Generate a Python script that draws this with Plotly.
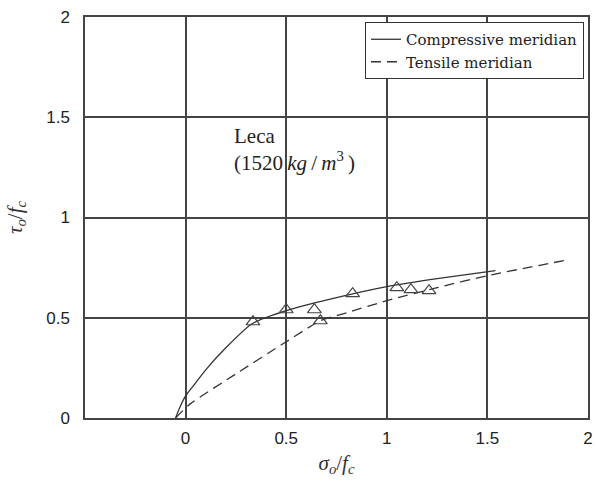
import plotly.graph_objects as go

# Compressive meridian curve
comp_x = [-0.05, -0.03, 0.0, 0.05, 0.1, 0.2, 0.33, 0.5, 0.75, 1.0, 1.25, 1.54]
comp_y = [0.0, 0.05, 0.11, 0.175, 0.24, 0.35, 0.47, 0.535, 0.6, 0.655, 0.695, 0.735]

# Tensile meridian curve
tens_x = [-0.05, 0.02, 0.25, 0.5, 0.67, 0.8, 1.0, 1.25, 1.5, 1.88]
tens_y = [0.0, 0.068, 0.22, 0.38, 0.485, 0.525, 0.585, 0.65, 0.71, 0.785]

# Test data (triangles)
data_x = [0.335, 0.50, 0.64, 0.67, 0.83, 1.05, 1.12, 1.21]
data_y = [0.48, 0.54, 0.54, 0.485, 0.62, 0.65, 0.64, 0.635]

x_ticks = [0, 0.5, 1, 1.5, 2]
x_tick_labels = ["0", "0.5", "1", "1.5", "2"]
y_ticks = [0, 0.5, 1, 1.5, 2]
y_tick_labels = ["0", "0.5", "1", "1.5", "2"]

serif = "Liberation Serif, DejaVu Serif, serif"
sans = "Liberation Sans, Arial, sans-serif"
line_col = "#333333"
grid_col = "#444444"

fig = go.Figure()
fig.add_trace(go.Scatter(x=comp_x, y=comp_y, mode="lines", name="Compressive meridian",
                         line=dict(color=line_col, width=1.3, shape="spline", smoothing=0.6)))
fig.add_trace(go.Scatter(x=tens_x, y=tens_y, mode="lines", name="Tensile meridian",
                         line=dict(color=line_col, width=1.3, dash="10px,6px", shape="spline",
                                   smoothing=0.6)))
fig.add_trace(go.Scatter(x=data_x, y=data_y, mode="markers", showlegend=False,
                         marker=dict(symbol="triangle-up-open", size=12,
                                     color="#444444", line=dict(width=1.2))))

fig.add_annotation(x=0.23, y=1.34, xref="x", yref="y", xanchor="left", yanchor="middle",
                   align="left", showarrow=False,
                   text="Leca<br>(1520\u2009<i>kg</i>\u2009/\u2009<i>m</i><sup>3</sup>\u2009)",
                   font=dict(family=serif, size=21, color="#222"))

fig.update_layout(
    width=598, height=494,
    margin=dict(l=85, r=10, t=17, b=76),
    paper_bgcolor="white", plot_bgcolor="white",
    showlegend=True,
    legend=dict(x=0.992, y=0.9875, xanchor="right", yanchor="top",
                bgcolor="white", bordercolor="#333", borderwidth=1,
                font=dict(family="DejaVu Serif, serif", size=15, color="#222"),
                tracegroupgap=0, itemwidth=30),
)
fig.update_xaxes(range=[-0.5, 2], tickvals=x_ticks, ticktext=x_tick_labels,
                 showgrid=True, gridcolor=grid_col, gridwidth=1.5,
                 showline=True, linecolor=grid_col, linewidth=1.5, mirror=True,
                 zeroline=False, ticks="", ticklabelstandoff=4, automargin=False,
                 tickfont=dict(family=sans, size=17, color="#222"),
                 title=dict(text="<i>σ<sub>o</sub></i>/<i>f<sub>c</sub></i>",
                            font=dict(family=serif, size=21, color="#333"), standoff=8))
fig.update_yaxes(range=[0, 2], tickvals=y_ticks, ticktext=y_tick_labels,
                 showgrid=True, gridcolor=grid_col, gridwidth=1.5,
                 showline=True, linecolor=grid_col, linewidth=1.5, mirror=True,
                 zeroline=False, ticks="", ticklabelstandoff=10, automargin=False,
                 tickfont=dict(family=sans, size=17, color="#222"),
                 title=dict(text="<i>τ<sub>o</sub></i>/<i>f<sub>c</sub></i>",
                            font=dict(family=serif, size=21, color="#333"), standoff=18))

fig.write_html("out.html", config={"displayModeBar": False},
               post_script="document.body.style.margin='0';document.body.style.overflow='hidden';")
